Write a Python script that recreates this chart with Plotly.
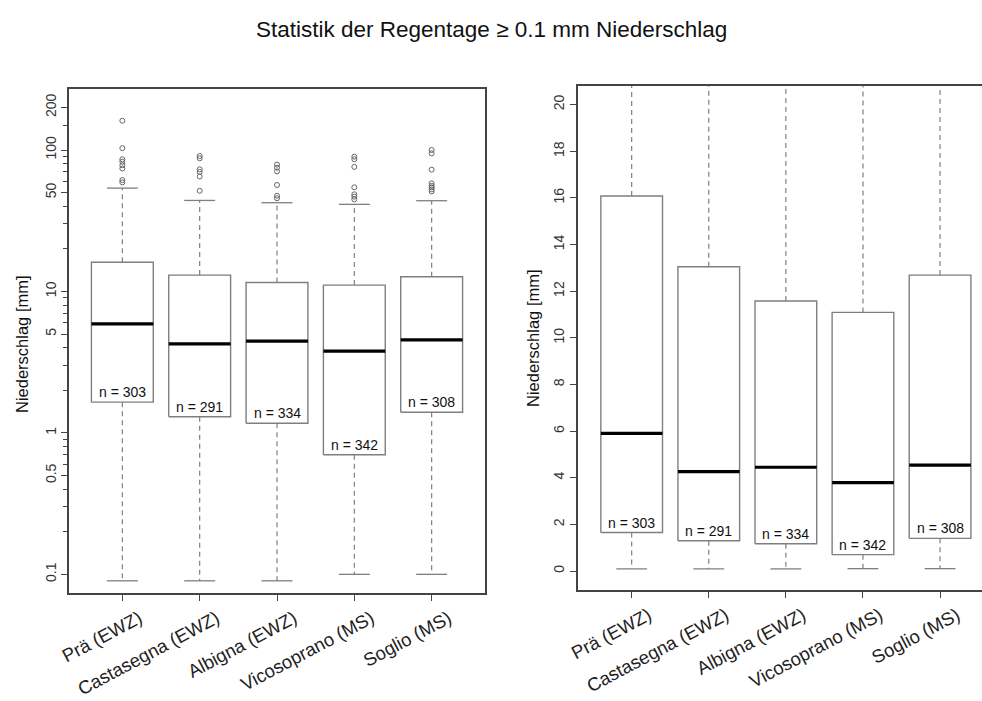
import math
import plotly.graph_objects as go

# ---------------- data ----------------
stations = ["Prä (EWZ)", "Castasegna (EWZ)", "Albigna (EWZ)", "Vicosoprano (MS)", "Soglio (MS)"]
n_days = [303, 291, 334, 342, 308]
q1 = [1.65, 1.30, 1.17, 0.70, 1.40]
median = [5.90, 4.26, 4.45, 3.79, 4.54]
q3 = [16.08, 13.05, 11.58, 11.09, 12.69]
lower_whisker = [0.09, 0.09, 0.09, 0.10, 0.10]
upper_whisker = [53.8, 44.0, 42.4, 41.3, 43.8]
outliers_pra = [161, 103, 86, 82.6, 78, 74, 61.3, 59]
outliers_castasegna = [90.7, 87.4, 73, 70, 65, 51.5]
outliers_albigna = [78.8, 75, 70.6, 56.6, 47.5, 45.6]
outliers_vicosoprano = [89.7, 86, 76, 54.5, 48.6, 46.8, 44.8]
outliers_soglio = [100, 94.7, 72.6, 58.1, 55.9, 54.5, 52.7, 51]
outliers = [outliers_pra, outliers_castasegna, outliers_albigna,
            outliers_vicosoprano, outliers_soglio]

log_tick_labels = [0.1, 0.5, 1, 5, 10, 50, 100, 200]
log_minor_ticks = [0.2, 0.3, 0.4, 0.6, 0.7, 0.8, 0.9, 2, 3, 4, 6, 7, 8, 9,
                   20, 30, 40, 60, 70, 80, 90, 150]
lin_ticks = [0, 2, 4, 6, 8, 10, 12, 14, 16, 18, 20]

title = "Statistik der Regentage \u2265 0.1 mm Niederschlag"
ytitle = "Niederschlag [mm]"

# ---------------- style ----------------
W, H = 982, 701
FONT = "Liberation Sans, Arial, Helvetica, sans-serif"
BOXC = "#7f7f7f"
FRAME = "#444444"
HALF_BOX = 0.4
HALF_CAP = 0.2

pos = list(range(1, len(stations) + 1))


def panel_traces(xa, ya):
    traces = []
    bx, by = [], []
    mx, my = [], []
    wx, wy = [], []
    cx, cy = [], []
    for i, p in enumerate(pos):
        bx += [p - HALF_BOX, p + HALF_BOX, p + HALF_BOX, p - HALF_BOX, p - HALF_BOX, None]
        by += [q1[i], q1[i], q3[i], q3[i], q1[i], None]
        mx += [p - HALF_BOX, p + HALF_BOX, None]
        my += [median[i], median[i], None]
        wx += [p, p, None, p, p, None]
        wy += [q3[i], upper_whisker[i], None, q1[i], lower_whisker[i], None]
        cx += [p - HALF_CAP, p + HALF_CAP, None, p - HALF_CAP, p + HALF_CAP, None]
        cy += [upper_whisker[i], upper_whisker[i], None, lower_whisker[i], lower_whisker[i], None]
    traces.append(go.Scatter(x=wx, y=wy, mode="lines", xaxis=xa, yaxis=ya,
                             line=dict(color=BOXC, width=1.2, dash="5px,4px"),
                             hoverinfo="skip", showlegend=False))
    traces.append(go.Scatter(x=cx, y=cy, mode="lines", xaxis=xa, yaxis=ya,
                             line=dict(color=BOXC, width=1.3),
                             hoverinfo="skip", showlegend=False))
    traces.append(go.Scatter(x=bx, y=by, mode="lines", xaxis=xa, yaxis=ya,
                             fill="toself", fillcolor="white",
                             line=dict(color=BOXC, width=1.4),
                             hoverinfo="skip", showlegend=False))
    traces.append(go.Scatter(x=mx, y=my, mode="lines", xaxis=xa, yaxis=ya,
                             line=dict(color="black", width=3.2),
                             hoverinfo="skip", showlegend=False))
    ox, oy = [], []
    for i, p in enumerate(pos):
        ox += [p] * len(outliers[i])
        oy += outliers[i]
    traces.append(go.Scatter(x=ox, y=oy, mode="markers", xaxis=xa, yaxis=ya,
                             marker=dict(symbol="circle-open", size=5,
                                         color="#666666", line=dict(width=1)),
                             hoverinfo="skip", showlegend=False))
    return traces


fig = go.Figure()
for t in panel_traces("x", "y"):
    fig.add_trace(t)
for t in panel_traces("x2", "y2"):
    fig.add_trace(t)

# geometry in pixels
L1, R1, T1, B1 = 69, 485, 89, 593
L2, R2, T2, B2 = 577.7, 982, 86, 590

xcommon = dict(tickmode="array", tickvals=pos, ticktext=stations, tickangle=-28,
               ticks="outside", ticklen=6, tickcolor=FRAME, showline=True,
               linecolor=FRAME, linewidth=1.5, mirror=True, showgrid=False,
               zeroline=False, ticklabelstandoff=0, ticklabelshift=17,
               automargin=False,
               tickfont=dict(family=FONT, size=18.5, color="#222222"))

fig.update_layout(
    width=W, height=H,
    margin=dict(l=0, r=0, t=0, b=0),
    paper_bgcolor="white", plot_bgcolor="white",
    font=dict(family=FONT, color="#222222"),
    showlegend=False,
    xaxis=dict(domain=[L1 / W, R1 / W], range=[0.31, 5.69], anchor="y", **xcommon),
    xaxis2=dict(domain=[L2 / W, R2 / W], range=[0.30, 5.544], anchor="y2", **xcommon),
    yaxis=dict(domain=[1 - B1 / H, 1 - T1 / H], type="log", anchor="x",
               range=[math.log10(0.0738), math.log10(270)], automargin=False,
               tickmode="array", tickvals=log_tick_labels,
               ticktext=[str(v) for v in log_tick_labels],
               tickangle=-90, ticks="outside", ticklen=6, tickcolor=FRAME,
               minor=dict(tickmode="array", tickvals=log_minor_ticks, ticks="outside",
                          ticklen=4, tickcolor=FRAME, showgrid=False),
               showline=True, linecolor=FRAME, linewidth=1.5, mirror=True,
               showgrid=False, zeroline=False,
               tickfont=dict(family=FONT, size=14, color="#333333")),
    yaxis2=dict(domain=[1 - B2 / H, 1 - T2 / H], anchor="x2", automargin=False,
                range=[-0.815, 20.8], tickmode="array", tickvals=lin_ticks,
                tickangle=-90, ticks="outside", ticklen=6, tickcolor=FRAME,
                showline=True, linecolor=FRAME, linewidth=1.5, mirror=False,
                showgrid=False, zeroline=False,
                tickfont=dict(family=FONT, size=14, color="#333333")),
)

annotations = [
    dict(text=title, xref="paper", yref="paper", x=492 / W, y=1 - 30 / H,
         xanchor="center", yanchor="middle", showarrow=False,
         font=dict(family=FONT, size=22.5, color="#111111")),
    dict(text=ytitle, xref="paper", yref="paper", x=22 / W, y=1 - 344 / H,
         xanchor="center", yanchor="middle", textangle=-90, showarrow=False,
         font=dict(family=FONT, size=16.5, color="#111111")),
    dict(text=ytitle, xref="paper", yref="paper", x=533 / W, y=1 - 338 / H,
         xanchor="center", yanchor="middle", textangle=-90, showarrow=False,
         font=dict(family=FONT, size=16.5, color="#111111")),
]
for i, p in enumerate(pos):
    annotations.append(dict(text=f"n = {n_days[i]}", x=p, y=math.log10(q1[i]),
                            xref="x", yref="y", xanchor="center", yanchor="bottom",
                            yshift=0, showarrow=False,
                            font=dict(family=FONT, size=14, color="#111111")))
    annotations.append(dict(text=f"n = {n_days[i]}", x=p, y=q1[i],
                            xref="x2", yref="y2", xanchor="center", yanchor="bottom",
                            yshift=0, showarrow=False,
                            font=dict(family=FONT, size=14, color="#111111")))
fig.update_layout(annotations=annotations)

fig.write_html("out.html")
